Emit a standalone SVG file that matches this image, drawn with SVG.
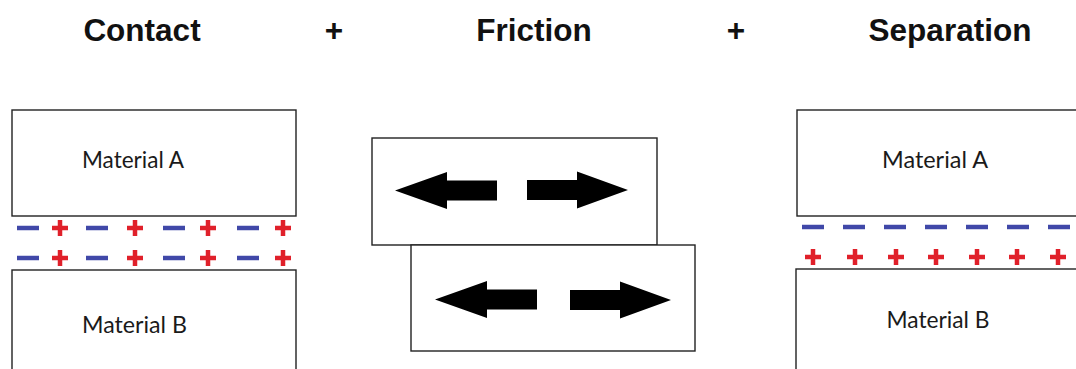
<svg xmlns="http://www.w3.org/2000/svg" xmlns:xlink="http://www.w3.org/1999/xlink" width="1076" height="369" viewBox="0 0 1076 369">
<style>
.title{font-family:"Liberation Sans",Arial,sans-serif;font-weight:bold;font-size:31.5px;fill:#111;text-anchor:middle}
.box{fill:#fff;stroke:#222;stroke-width:1.4}
.lbl{font-family:Lato,"Open Sans",sans-serif;font-size:23px;fill:#1a1a1a;text-anchor:middle}
.neg{stroke:#4048a8;stroke-width:4.5;stroke-linecap:butt}
.pos{stroke:#e0202a;stroke-width:4.5;stroke-linecap:butt;fill:none}
.arrow{fill:#000}
</style>
<defs>
<path id="minus" class="neg" d="M-11,0H11"/>
<path id="plus" class="pos" d="M-8,0H8M0,-8V8"/>
<path id="larrow" class="arrow" d="M0,0L52,-18.5V-10H102V10H52V18.5Z"/>
<path id="rarrow" class="arrow" d="M0,0L-51,-18.5V-10H-101V10H-51V18.5Z"/>
</defs>
<rect width="1076" height="369" fill="#fff"/>

<g id="titles">
<text class="title" x="142" y="41">Contact</text>
<text class="title" x="334" y="41">+</text>
<text class="title" x="534" y="41">Friction</text>
<text class="title" x="736" y="41">+</text>
<text class="title" x="950" y="41">Separation</text>
</g>

<g id="contact-material-a">
<rect class="box" x="12" y="110" width="284" height="106"/>
<text class="lbl" x="133" y="168" textLength="102" lengthAdjust="spacingAndGlyphs">Material A</text>
</g>
<g id="contact-material-b">
<rect class="box" x="12" y="270" width="284" height="120"/>
<text class="lbl" x="134.5" y="333" textLength="105" lengthAdjust="spacingAndGlyphs">Material B</text>
</g>
<g id="contact-charges">
<use xlink:href="#minus" x="28" y="228"/><use xlink:href="#plus" x="60" y="228"/>
<use xlink:href="#minus" x="97" y="228"/><use xlink:href="#plus" x="135" y="228"/>
<use xlink:href="#minus" x="174" y="228"/><use xlink:href="#plus" x="208" y="228"/>
<use xlink:href="#minus" x="248" y="228"/><use xlink:href="#plus" x="283" y="228"/>
<use xlink:href="#minus" x="28" y="258"/><use xlink:href="#plus" x="60" y="258"/>
<use xlink:href="#minus" x="97" y="258"/><use xlink:href="#plus" x="135" y="258"/>
<use xlink:href="#minus" x="174" y="258"/><use xlink:href="#plus" x="208" y="258"/>
<use xlink:href="#minus" x="248" y="258"/><use xlink:href="#plus" x="283" y="258"/>
</g>

<g id="friction-top">
<rect class="box" x="372" y="138" width="285" height="107"/>
</g>
<g id="friction-bottom">
<rect class="box" x="411" y="245" width="284" height="106"/>
</g>
<g id="connectors">
<use xlink:href="#larrow" x="395" y="190.5"/>
<use xlink:href="#rarrow" x="628" y="190"/>
<use xlink:href="#larrow" x="435" y="299.5"/>
<use xlink:href="#rarrow" x="671" y="300"/>
</g>

<g id="separation-material-a">
<rect class="box" x="797" y="110" width="300" height="106"/>
<text class="lbl" x="935" y="168" textLength="106" lengthAdjust="spacingAndGlyphs">Material A</text>
</g>
<g id="separation-material-b">
<rect class="box" x="796" y="269" width="300" height="120"/>
<text class="lbl" x="938" y="328" textLength="103" lengthAdjust="spacingAndGlyphs">Material B</text>
</g>
<g id="separation-charges">
<use xlink:href="#minus" x="813" y="227"/><use xlink:href="#minus" x="854" y="227"/>
<use xlink:href="#minus" x="895" y="227"/><use xlink:href="#minus" x="936" y="227"/>
<use xlink:href="#minus" x="977" y="227"/><use xlink:href="#minus" x="1018" y="227"/>
<use xlink:href="#minus" x="1059" y="227"/>
<use xlink:href="#plus" x="813" y="257"/><use xlink:href="#plus" x="855" y="257"/>
<use xlink:href="#plus" x="896" y="257"/><use xlink:href="#plus" x="936" y="257"/>
<use xlink:href="#plus" x="977" y="257"/><use xlink:href="#plus" x="1017" y="257"/>
<use xlink:href="#plus" x="1058" y="257"/>
</g>
</svg>
